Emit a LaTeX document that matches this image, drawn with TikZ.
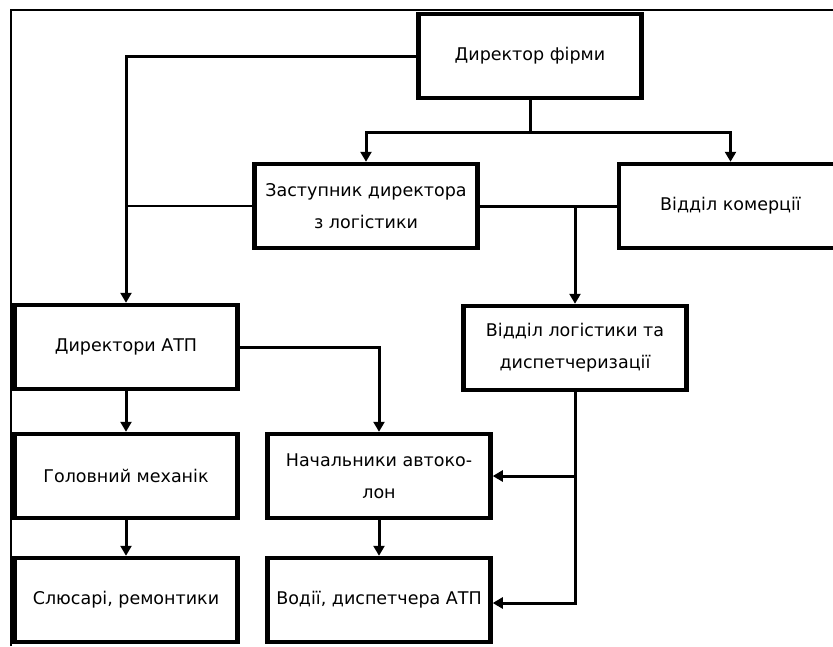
\documentclass[tikz,border=0pt]{standalone}
\usepackage{fontspec}
\setmainfont{DejaVu Sans}
\usetikzlibrary{arrows.meta}
\begin{document}
\begin{tikzpicture}[x=1pt,y=-1pt,
 box/.style={draw, line width=4.5pt, minimum width=223pt, minimum height=84pt, inner sep=0pt, align=center, font=\fontsize{17.5}{32}\selectfont},
 conn/.style={line width=3pt},
 thinconn/.style={line width=2pt},
 arr/.style={-{Triangle[width=11pt,length=10pt]}},
]
\useasboundingbox (0,0) rectangle (833,646);
\clip (0,0) rectangle (833,646);
\draw[line width=2.5pt] (11,646) -- (11,10) -- (833,10);

\node[box] (dir)  at (530,56)   {Директор фірми};
\node[box] (zast) at (366,206)  {Заступник директора\\з логістики};
\node[box] (kom)  at (730.5,206) {Відділ комерції};
\node[box] (lg)   at (575,348)  {Відділ логістики та\\диспетчеризації};
\node[box] (atp)  at (126,347)  {Директори АТП};
\node[box] (mech) at (126,476)  {Головний механік};
\node[box] (nach) at (379,476)  {Начальники автоко-\\лон};
\node[box] (slus) at (126,600)  {Слюсарі, ремонтики};
\node[box] (vod)  at (379,600)  {Водії, диспетчера АТП};

\coordinate (jd) at (530,132);
\coordinate (jz) at (366,132);
\coordinate (jk) at (730.5,132);
\coordinate (jl) at (126,56);
\coordinate (jzw) at (126,206);
\coordinate (jlg) at (575,206);
\coordinate (ja) at (379,347);
\coordinate (jb) at (575,603);
\coordinate (jn) at (575,476);

\draw[conn,arr] (dir.west) -- (jl) -- (atp.north);
\draw[conn] (dir.south) -- (jd);
\draw[conn,arr] (jd) -- (jz) -- (zast.north);
\draw[conn,arr] (jd) -- (jk) -- (kom.north);
\draw[thinconn] (zast.west) -- (jzw);
\draw[conn] (zast.east) -- (kom.west);
\draw[conn,arr] (jlg) -- (lg.north);
\draw[conn,arr] (atp.east) -- (ja) -- (nach.north);
\draw[conn,arr] (atp.south) -- (mech.north);
\draw[conn,arr] (mech.south) -- (slus.north);
\draw[conn,arr] (nach.south) -- (vod.north);
\draw[conn,arr] (lg.south) -- (jb) -- (vod.east |- jb);
\draw[conn,arr] (jn) -- (nach.east);
\end{tikzpicture}
\end{document}
